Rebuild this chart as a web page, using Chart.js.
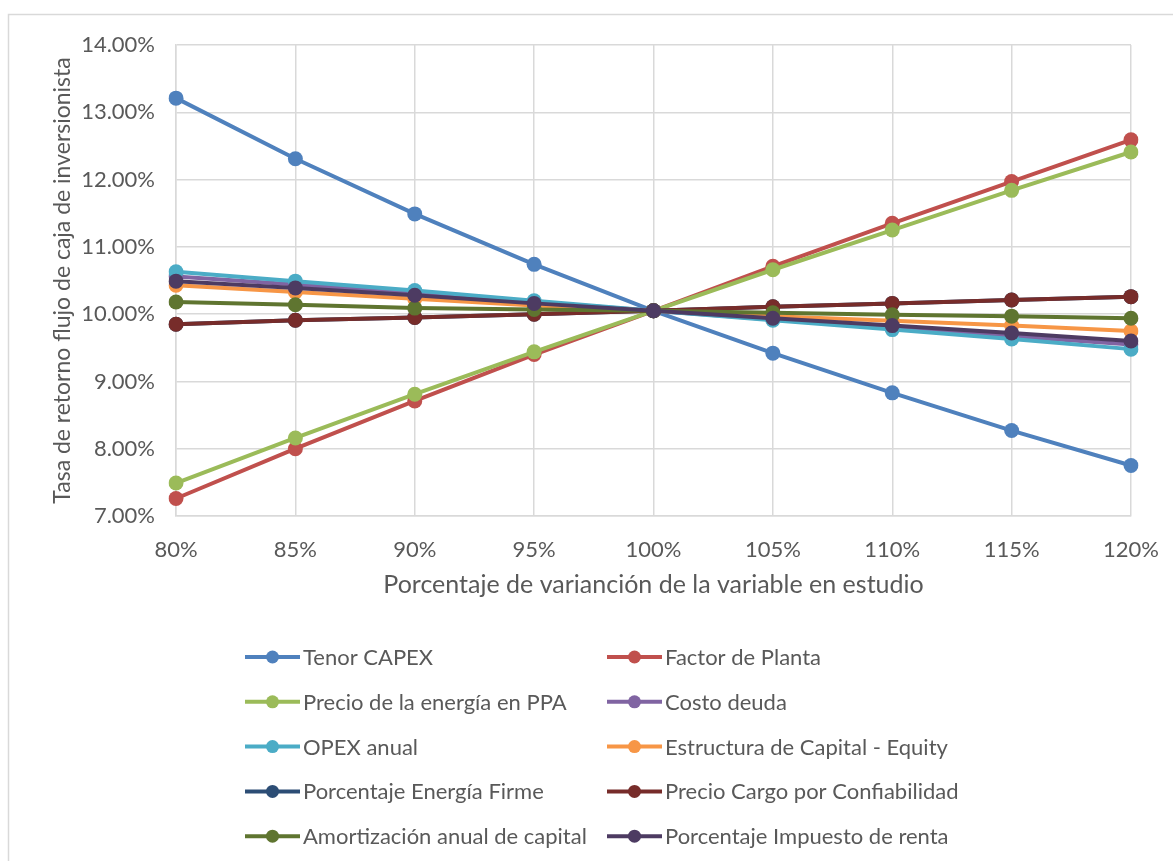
<!DOCTYPE html>
<html>
<head>
<meta charset="utf-8">
<title>Sensibilidad TIR inversionista</title>
<script src="https://cdn.jsdelivr.net/npm/chart.js@4/dist/chart.umd.min.js"></script>
<style>
  html, body { margin: 0; padding: 0; background: #ffffff; }
  #wrap { position: absolute; left: 0; top: 0; width: 1173px; height: 861px; }
</style>
</head>
<body>
<div id="wrap"><canvas id="c" width="1173" height="861"></canvas></div>
<script>
// Porcentaje de variación aplicado a cada variable
const categories = ['80%', '85%', '90%', '95%', '100%', '105%', '110%', '115%', '120%'];

// TIR del flujo de caja del inversionista (%) por variable
const tenorCapex      = [13.21, 12.31, 11.49, 10.74, 10.05, 9.42, 8.83, 8.27, 7.75];
const factorPlanta    = [7.26, 8.00, 8.71, 9.40, 10.05, 10.71, 11.35, 11.97, 12.59];
const precioPPA       = [7.49, 8.16, 8.81, 9.44, 10.05, 10.66, 11.25, 11.84, 12.41];
const costoDeuda      = [10.56, 10.44, 10.31, 10.18, 10.05, 9.92, 9.79, 9.67, 9.55];
const opexAnual       = [10.63, 10.49, 10.35, 10.20, 10.05, 9.91, 9.77, 9.63, 9.48];
const estructuraEq    = [10.43, 10.33, 10.23, 10.13, 10.05, 9.97, 9.90, 9.83, 9.75];
const energiaFirme    = [9.85, 9.91, 9.95, 10.00, 10.05, 10.11, 10.16, 10.21, 10.26];
const cargoConfiab    = [9.85, 9.91, 9.95, 10.00, 10.05, 10.11, 10.16, 10.21, 10.26];
const amortizacion    = [10.18, 10.14, 10.09, 10.07, 10.05, 10.02, 9.99, 9.97, 9.94];
const impuestoRenta   = [10.49, 10.39, 10.28, 10.16, 10.05, 9.94, 9.83, 9.72, 9.60];

const seriesNames = [
  'Tenor CAPEX', 'Factor de Planta',
  'Precio de la energía en PPA', 'Costo deuda',
  'OPEX anual', 'Estructura de Capital - Equity',
  'Porcentaje Energía Firme', 'Precio Cargo por Confiabilidad',
  'Amortización anual de capital', 'Porcentaje Impuesto de renta'
];
const seriesValues = [
  tenorCapex, factorPlanta, precioPPA, costoDeuda, opexAnual,
  estructuraEq, energiaFirme, cargoConfiab, amortizacion, impuestoRenta
];
const seriesColors = [
  '#4F81BD', '#C0504D', '#9BBB59', '#8064A2', '#4BACC6',
  '#F79646', '#2C4D75', '#772C2A', '#5F7530', '#4D3B62'
];

// Y axis range and step (%)
const yMin = 7, yMax = 14, yStep = 1;

const TEXT = '#595959';
const GRID = '#D9D9D9';
const FONT = 'Lato';

// Later series are painted over earlier ones
const datasets = seriesNames.map((name, i) => ({
  label: name,
  data: seriesValues[i],
  borderColor: seriesColors[i],
  backgroundColor: seriesColors[i],
  pointBackgroundColor: seriesColors[i],
  pointBorderColor: seriesColors[i],
  borderWidth: 4,
  pointRadius: 7.5,
  pointBorderWidth: 0,
  pointHoverRadius: 7.5,
  tension: 0,
  fill: false,
  order: seriesNames.length - i
}));

// Outer frame of the chart
const framePlugin = {
  id: 'frame',
  beforeDraw(chart) {
    const ctx = chart.ctx;
    ctx.save();
    ctx.fillStyle = '#ffffff';
    ctx.fillRect(0, 0, chart.width, chart.height);
    ctx.strokeStyle = '#D9D9D9';
    ctx.lineWidth = 1.5;
    ctx.strokeRect(8.5, 14.5, chart.width + 20, chart.height + 20);
    ctx.restore();
  }
};

// Two-column legend under the axis title
const legendPlugin = {
  id: 'twoColLegend',
  afterDraw(chart) {
    const ctx = chart.ctx;
    const colX = [245, 607];
    const rowY0 = 657, rowGap = 44.8;
    ctx.save();
    chart.data.datasets.forEach((ds, i) => {
      const x = colX[i % 2];
      const y = rowY0 + Math.floor(i / 2) * rowGap;
      ctx.strokeStyle = ds.borderColor;
      ctx.lineWidth = 4;
      ctx.beginPath();
      ctx.moveTo(x, y);
      ctx.lineTo(x + 55, y);
      ctx.stroke();
      ctx.fillStyle = ds.borderColor;
      ctx.beginPath();
      ctx.arc(x + 27.5, y, 6.5, 0, Math.PI * 2);
      ctx.fill();
      ctx.fillStyle = TEXT;
      ctx.font = '22px ' + FONT;
      ctx.textAlign = 'left';
      ctx.textBaseline = 'middle';
      ctx.fillText(ds.label, x + 58, y + 1);
    });
    ctx.restore();
  }
};

function build() {
  Chart.defaults.font.family = FONT;
  Chart.defaults.color = TEXT;
  new Chart(document.getElementById('c'), {
    type: 'line',
    data: { labels: categories, datasets },
    options: {
      responsive: false,
      animation: false,
      events: [],
      layout: { padding: { left: 49, top: 45, right: 42, bottom: 261 } },
      plugins: { legend: { display: false }, tooltip: { enabled: false } },
      scales: {
        x: {
          offset: false,
          grid: { color: GRID, lineWidth: 1.5, drawTicks: false },
          border: { color: GRID, width: 1.5 },
          ticks: { padding: 21, color: TEXT, font: { size: 22 }, maxRotation: 0 },
          title: {
            display: true,
            text: 'Porcentaje de varianción de la variable en estudio',
            color: TEXT, font: { size: 25 }, padding: 0
          },
          afterFit(scale) {
            scale.height = 84;
            scale.paddingLeft = 0;
            scale.paddingRight = 0;
          }
        },
        y: {
          min: yMin, max: yMax,
          grid: { color: GRID, lineWidth: 1.5, drawTicks: false },
          border: { color: GRID, width: 1.5 },
          ticks: {
            stepSize: yStep, padding: 21, color: TEXT, font: { size: 22 },
            callback: v => v.toFixed(2) + '%'
          },
          title: {
            display: true,
            text: 'Tasa de retorno flujo de caja de inversionista',
            color: TEXT, font: { size: 23 }, padding: 0
          },
          afterFit(scale) {
            scale.width = 127;
            scale.paddingTop = 0;
            scale.paddingBottom = 0;
          }
        }
      }
    },
    plugins: [framePlugin, legendPlugin]
  });
}

document.fonts.load('22px ' + FONT).then(build, build);
</script>
</body>
</html>
